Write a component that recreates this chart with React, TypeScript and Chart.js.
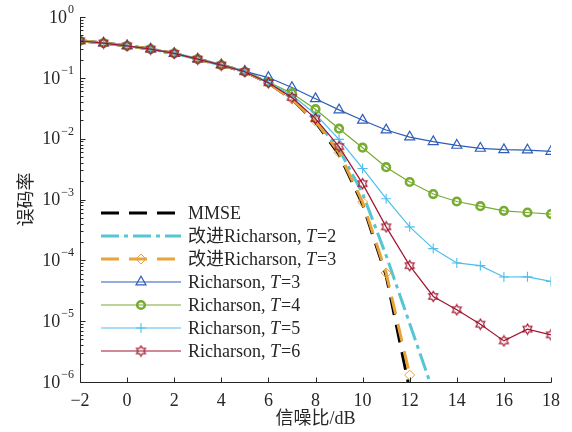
import React, { useEffect, useRef } from "react";
import { Chart, registerables } from "chart.js";

Chart.register(...registerables);

// ---- data ----
const snr = [-2, -1, 0, 1, 2, 3, 4, 5, 6, 7, 8, 9, 10, 11, 12, 13, 14, 15, 16, 17, 18];
const xTickValues = [-2, 0, 2, 4, 6, 8, 10, 12, 14, 16, 18];
const yTickExponents = [0, -1, -2, -3, -4, -5, -6];

const mmse = [0.407, 0.373, 0.336, 0.297, 0.252, 0.203, 0.162, 0.126, 0.082, 0.0446, 0.0187, 0.0055, 0.00083, 0.000056, 0.00000074];
const impT2 = [0.407, 0.373, 0.336, 0.297, 0.252, 0.203, 0.162, 0.126, 0.083, 0.046, 0.02, 0.0067, 0.00126, 0.00012, 0.0000091, 0.00000069];
const impT3 = [0.407, 0.373, 0.336, 0.297, 0.252, 0.203, 0.162, 0.126, 0.082, 0.0446, 0.0194, 0.0059, 0.00091, 0.000062, 0.0000013];
const richT3 = [0.407, 0.373, 0.336, 0.297, 0.252, 0.204, 0.164, 0.128, 0.101, 0.0694, 0.0454, 0.0297, 0.0201, 0.0139, 0.01063, 0.00894, 0.00776, 0.00693, 0.00659, 0.0065, 0.00618];
const richT4 = [0.407, 0.373, 0.336, 0.297, 0.252, 0.203, 0.162, 0.126, 0.085, 0.0559, 0.0305, 0.0146, 0.00711, 0.0034, 0.00194, 0.00123, 0.000927, 0.000776, 0.000652, 0.000611, 0.000575];
const richT5 = [0.407, 0.373, 0.336, 0.297, 0.252, 0.203, 0.162, 0.126, 0.084, 0.0518, 0.0252, 0.00975, 0.00324, 0.00103, 0.000355, 0.000156, 0.0000905, 0.0000817, 0.0000532, 0.0000535, 0.000045];
const richT6 = [0.407, 0.373, 0.336, 0.297, 0.252, 0.203, 0.162, 0.126, 0.083, 0.0475, 0.0214, 0.0074, 0.00182, 0.000355, 0.0000817, 0.0000255, 0.0000154, 0.00000893, 0.00000474, 0.0000074, 0.00000596];

const seriesNames = [
  ["MMSE", "", ""],
  ["改进Richarson, ", "T", "=2"],
  ["改进Richarson, ", "T", "=3"],
  ["Richarson, ", "T", "=3"],
  ["Richarson, ", "T", "=4"],
  ["Richarson, ", "T", "=5"],
  ["Richarson, ", "T", "=6"],
];

const FONT = '"Liberation Serif", "Noto Sans CJK SC", serif';
const CJK = '"Noto Sans CJK SC", sans-serif';
const TEXT = "#262626";

function makeHexagram(color: string) {
  const c = document.createElement("canvas");
  const s = 13;
  c.width = s;
  c.height = s;
  const g = c.getContext("2d")!;
  const cx = s / 2, cy = s / 2, R = 5.2, r = R / Math.sqrt(3);
  g.beginPath();
  for (let i = 0; i < 12; i++) {
    const ang = -Math.PI / 2 + (i * Math.PI) / 6;
    const rad = i % 2 === 0 ? R : r;
    const px = cx + rad * Math.cos(ang), py = cy + rad * Math.sin(ang);
    if (i === 0) g.moveTo(px, py); else g.lineTo(px, py);
  }
  g.closePath();
  g.strokeStyle = color;
  g.lineWidth = 1.1;
  g.stroke();
  return c;
}

type Spec = {
  values: number[];
  color: string;
  width: number;
  dash: number[];
  marker: string;
  radius: number;
  markerWidth: number;
};

const specs: Spec[] = [
  { values: mmse, color: "#000000", width: 3, dash: [18, 10], marker: "none", radius: 0, markerWidth: 0 },
  { values: impT2, color: "#55C6D4", width: 3, dash: [18, 5, 4, 5], marker: "none", radius: 0, markerWidth: 0 },
  { values: impT3, color: "#E8A33B", width: 3, dash: [18, 10], marker: "rectRot", radius: 5, markerWidth: 1 },
  { values: richT3, color: "#2E5EB8", width: 1.2, dash: [], marker: "triangle", radius: 5.8, markerWidth: 1.2 },
  { values: richT4, color: "#77AC30", width: 1.2, dash: [], marker: "circle", radius: 3.8, markerWidth: 2.6 },
  { values: richT5, color: "#4DBEEE", width: 1.2, dash: [], marker: "cross", radius: 5, markerWidth: 1.1 },
  { values: richT6, color: "#A2142F", width: 1.2, dash: [], marker: "hexagram", radius: 6, markerWidth: 1 },
];

function drawMarker(ctx: CanvasRenderingContext2D, s: Spec, cx: number, cy: number, hex: HTMLCanvasElement | null) {
  ctx.save();
  ctx.setLineDash([]);
  ctx.strokeStyle = s.color;
  ctx.lineWidth = s.markerWidth;
  const r = s.radius;
  ctx.beginPath();
  if (s.marker === "triangle") {
    ctx.moveTo(cx, cy - r);
    ctx.lineTo(cx + r * 0.866, cy + r * 0.5);
    ctx.lineTo(cx - r * 0.866, cy + r * 0.5);
    ctx.closePath();
    ctx.stroke();
  } else if (s.marker === "circle") {
    ctx.arc(cx, cy, r, 0, Math.PI * 2);
    ctx.stroke();
  } else if (s.marker === "cross") {
    ctx.moveTo(cx - r, cy);
    ctx.lineTo(cx + r, cy);
    ctx.moveTo(cx, cy - r);
    ctx.lineTo(cx, cy + r);
    ctx.stroke();
  } else if (s.marker === "rectRot") {
    ctx.moveTo(cx, cy - r);
    ctx.lineTo(cx + r, cy);
    ctx.lineTo(cx, cy + r);
    ctx.lineTo(cx - r, cy);
    ctx.closePath();
    ctx.stroke();
  } else if (s.marker === "hexagram" && hex) {
    ctx.drawImage(hex, cx - hex.width / 2, cy - hex.height / 2);
  }
  ctx.restore();
}

export default function App() {
  const ref = useRef<HTMLCanvasElement | null>(null);

  useEffect(() => {
    if (!ref.current) return;
    const hex = makeHexagram("#A2142F");

    const datasets = specs.map((s, i) => ({
      label: seriesNames[i].join(""),
      data: s.values.map((v, j) => ({ x: snr[j], y: v })),
      borderColor: s.color,
      backgroundColor: "rgba(0,0,0,0)",
      borderWidth: s.width,
      borderDash: s.dash,
      pointStyle: s.marker === "none" ? false : s.marker === "hexagram" ? hex : s.marker,
      pointRadius: s.marker === "none" ? 0 : s.radius,
      pointBorderWidth: s.markerWidth,
      pointBorderColor: s.color,
      pointBackgroundColor: "rgba(0,0,0,0)",
      tension: 0,
      order: specs.length - i,
    }));

    const axesPlugin = {
      id: "customAxes",
      afterDraw(chart: any) {
        const { ctx, chartArea: a, scales } = chart;
        const x = scales.x, y = scales.y;
        ctx.save();
        ctx.strokeStyle = TEXT;
        ctx.lineWidth = 1;
        ctx.setLineDash([]);
        const L = Math.round(a.left) + 0.5;
        const B = Math.round(a.bottom) + 0.5;
        ctx.beginPath();
        ctx.moveTo(L, Math.round(a.top));
        ctx.lineTo(L, B);
        ctx.lineTo(Math.round(a.right) + 0.5, B);
        ctx.stroke();
        ctx.beginPath();
        for (const v of xTickValues) {
          const px = Math.round(x.getPixelForValue(v)) + 0.5;
          ctx.moveTo(px, B);
          ctx.lineTo(px, B - 5);
        }
        for (const e of yTickExponents) {
          for (let m = 1; m <= 9; m++) {
            if (e === 0 && m > 1) continue;
            const py = Math.round(y.getPixelForValue(m * Math.pow(10, e))) + 0.5;
            ctx.moveTo(L, py);
            ctx.lineTo(L + (m === 1 ? 5 : 3), py);
          }
        }
        ctx.stroke();
        // y tick labels 10^e
        ctx.fillStyle = TEXT;
        const xEnd = 74;
        for (const e of yTickExponents) {
          const py = y.getPixelForValue(Math.pow(10, e));
          const expText = e < 0 ? "\u2212" + Math.abs(e) : String(e);
          ctx.font = "12px " + FONT;
          const ew = ctx.measureText(expText).width;
          ctx.textAlign = "left";
          ctx.textBaseline = "middle";
          ctx.fillText(expText, xEnd - ew, py - 7);
          ctx.font = "18px " + FONT;
          ctx.textAlign = "right";
          ctx.fillText("10", xEnd - ew - 1, py + 1);
        }
        ctx.restore();
      },
    };

    const legendPlugin = {
      id: "customLegend",
      afterDraw(chart: any) {
        const { ctx } = chart;
        ctx.save();
        const x1 = 101, x2 = 181, tx = 188;
        specs.forEach((s, i) => {
          const cy = 213 + i * 23;
          ctx.strokeStyle = s.color;
          ctx.lineWidth = s.width;
          ctx.setLineDash(s.dash);
          ctx.beginPath();
          ctx.moveTo(x1, cy);
          ctx.lineTo(x2, cy);
          ctx.stroke();
          ctx.setLineDash([]);
          if (s.marker !== "none") drawMarker(ctx, s, (x1 + x2) / 2, cy, hex);
          const [pre, it, post] = seriesNames[i];
          ctx.fillStyle = TEXT;
          ctx.textAlign = "left";
          ctx.textBaseline = "middle";
          let cx = tx;
          ctx.font = "18px " + FONT;
          ctx.fillText(pre, cx, cy + 1);
          cx += ctx.measureText(pre).width;
          if (it) {
            ctx.font = "italic 18px " + FONT;
            ctx.fillText(it, cx, cy + 1);
            cx += ctx.measureText(it).width + 1;
            ctx.font = "18px " + FONT;
            ctx.fillText(post, cx, cy + 1);
          }
        });
        ctx.restore();
      },
    };

    const chart = new Chart(ref.current, {
      type: "line",
      data: { datasets: datasets as any },
      plugins: [axesPlugin, legendPlugin],
      options: {
        animation: false,
        responsive: false,
        devicePixelRatio: 1,
        layout: { padding: { left: 0, right: 21, top: 17, bottom: 0 } },
        plugins: { legend: { display: false }, tooltip: { enabled: false } },
        scales: {
          x: {
            type: "linear",
            min: -2,
            max: 18,
            grid: { display: false, drawTicks: false },
            border: { display: false },
            afterFit: (s: any) => { s.height = 50; },
            ticks: {
              stepSize: 2,
              autoSkip: false,
              maxRotation: 0,
              padding: 8,
              color: TEXT,
              font: { family: FONT, size: 18 },
              callback: (v: any) => (Number(v) < 0 ? "\u2212" + Math.abs(Number(v)) : String(v)),
            },
            title: {
              display: true,
              text: "信噪比/dB",
              color: TEXT,
              font: { family: FONT, size: 18 },
              padding: { top: 0, bottom: 2 },
            },
          },
          y: {
            type: "logarithmic",
            min: 1e-6,
            max: 1,
            grid: { display: false, drawTicks: false },
            border: { display: false },
            afterFit: (s: any) => { s.width = 80; },
            ticks: { display: false },
            title: {
              display: true,
              text: "误码率",
              color: TEXT,
              font: { family: CJK, size: 18 },
              padding: { top: 14, bottom: 0 },
            },
          },
        },
      } as any,
    });
    return () => chart.destroy();
  }, []);

  return (
    <div style={{ position: "fixed", left: 0, top: 0, width: 572, height: 432, background: "#fff" }}>
      <canvas ref={ref} width={572} height={432} style={{ width: 572, height: 432 }} />
    </div>
  );
}
